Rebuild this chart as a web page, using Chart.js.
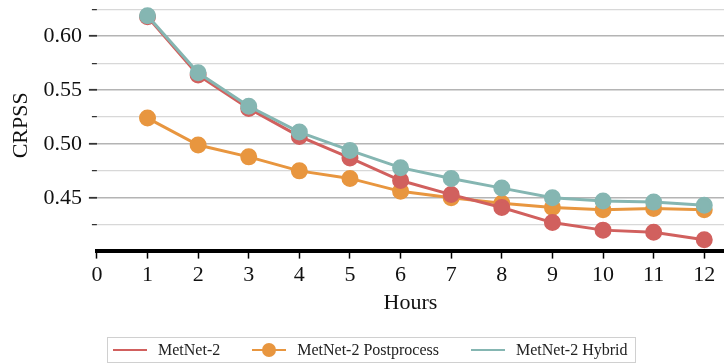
<!DOCTYPE html>
<html>
<head>
<meta charset="utf-8">
<script src="https://cdn.jsdelivr.net/npm/chart.js@4.4.0/dist/chart.umd.min.js"></script>
<style>
  html, body { margin: 0; padding: 0; background: #fff; }
  #wrap { width: 724px; height: 364px; position: relative; }
  #legend {
    position: absolute; left: 107px; top: 337px; height: 26px; box-sizing: border-box;
    border: 1px solid #d0d0d0; display: flex; align-items: center;
    padding: 0 7px 0 5px; font-family: 'Liberation Serif', serif; font-size: 16px; color: #222;
  }
  .item { display: flex; align-items: center; margin-right: 32px; white-space: nowrap; }
  .item:last-child { margin-right: 0; }
  .swatch { position: relative; width: 34px; height: 2.5px; margin-right: 11px; }
  .swatch .dot { position: absolute; left: 10px; top: -5.75px; width: 14px; height: 14px; border-radius: 50%; }
</style>
</head>
<body>
<div id="wrap">
  <canvas id="chart"></canvas>
  <div id="legend"></div>
</div>
<script>
// --- dados ---
const hours = [1, 2, 3, 4, 5, 6, 7, 8, 9, 10, 11, 12];
const metnet2 = [0.618, 0.564, 0.533, 0.507, 0.487, 0.466, 0.453, 0.441, 0.427, 0.420, 0.418, 0.411];
const postprocess = [0.524, 0.499, 0.488, 0.475, 0.468, 0.456, 0.450, 0.445, 0.441, 0.439, 0.440, 0.439];
const hybrid = [0.619, 0.566, 0.535, 0.511, 0.494, 0.478, 0.468, 0.459, 0.450, 0.447, 0.446, 0.443];
const seriesNames = ['MetNet-2', 'MetNet-2 Postprocess', 'MetNet-2 Hybrid'];
const xTicks = [0, 1, 2, 3, 4, 5, 6, 7, 8, 9, 10, 11, 12];
const yTicks = [0.425, 0.45, 0.475, 0.5, 0.525, 0.55, 0.575, 0.6, 0.625];

const RED = '#d1605e', ORANGE = '#e8963f', TEAL = '#85b6b2';
const SERIF = "'Liberation Serif', 'DejaVu Serif', serif";

function pts(vals) { return hours.map((h, i) => ({ x: h, y: vals[i] })); }
function isMajor(v) { return Math.abs(v * 20 - Math.round(v * 20)) < 1e-6; }

const ds = (label, vals, color, order) => ({
  label, data: pts(vals), borderColor: color, backgroundColor: color,
  pointBackgroundColor: color, pointBorderColor: color,
  borderWidth: 3, pointRadius: 7, pointHoverRadius: 7, order
});

const chart = new Chart(document.getElementById('chart'), {
  type: 'line',
  data: {
    datasets: [
      ds(seriesNames[0], metnet2, RED, 2),
      ds(seriesNames[1], postprocess, ORANGE, 3),
      ds(seriesNames[2], hybrid, TEAL, 1)
    ]
  },
  options: {
    responsive: true,
    maintainAspectRatio: false,
    animation: false,
    layout: { autoPadding: false, padding: { left: 4, right: 0, top: 0, bottom: 48 } },
    plugins: { tooltip: { enabled: false }, legend: { display: false } },
    scales: {
      x: {
        type: 'linear', min: 0, max: 12.39,
        afterBuildTicks(s) { s.ticks = xTicks.map(v => ({ value: v })); },
        afterFit(s) { s.paddingLeft = 0; s.paddingRight = 0; },
        grid: { display: true, drawOnChartArea: false, drawTicks: true, tickLength: 8, tickColor: '#000', tickWidth: 1.5 },
        border: { display: true, color: '#000', width: 4 },
        ticks: { color: '#111', font: { family: SERIF, size: 22, lineHeight: 1.0 }, padding: 6, maxRotation: 0, autoSkip: false },
        title: { display: true, text: 'Hours', color: '#111', font: { family: SERIF, size: 22 }, padding: { top: -3, bottom: 0 } }
      },
      y: {
        min: 0.401, max: 0.6336,
        afterBuildTicks(s) { s.ticks = yTicks.map(v => ({ value: v })); },
        afterFit(s) { s.paddingTop = 0; s.paddingBottom = 0; },
        grid: {
          color: c => isMajor(c.tick.value) ? '#b4b4b4' : '#d8d8d8',
          lineWidth: c => isMajor(c.tick.value) ? 1.6 : 1.2,
          tickColor: '#333', tickLength: 8,
          tickWidth: c => isMajor(c.tick.value) ? 1.8 : 1.2,
          // marcas menores mais curtas: só os 5px junto ao gráfico
          tickBorderDash: c => isMajor(c.tick.value) ? [] : [0, 3, 5, 100]
        },
        border: { display: false },
        ticks: {
          color: '#111', font: { family: SERIF, size: 22 }, padding: 7, autoSkip: false,
          callback: v => isMajor(v) ? v.toFixed(2) : ''
        },
        title: { display: true, text: 'CRPSS', color: '#111', font: { family: SERIF, size: 22 }, padding: { top: 4, bottom: 2 } }
      }
    }
  }
});

// legenda em HTML (com borda, como no original)
const legend = document.getElementById('legend');
chart.data.datasets.forEach((d, i) => {
  const item = document.createElement('div');
  item.className = 'item';
  const sw = document.createElement('span');
  sw.className = 'swatch';
  sw.style.background = d.borderColor;
  if (i === 1) {
    const dot = document.createElement('span');
    dot.className = 'dot';
    dot.style.background = d.borderColor;
    sw.appendChild(dot);
  }
  const txt = document.createElement('span');
  txt.innerText = d.label;
  item.appendChild(sw);
  item.appendChild(txt);
  legend.appendChild(item);
});
</script>
</body>
</html>
